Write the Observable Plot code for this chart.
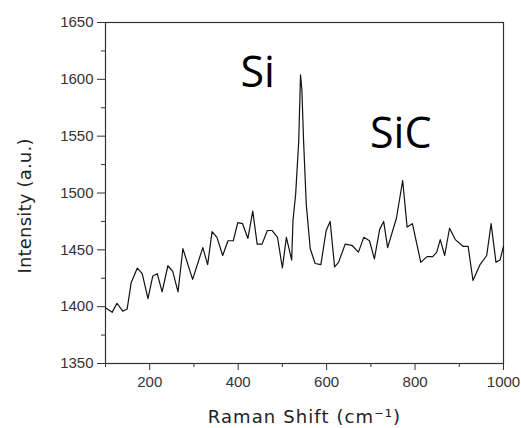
<!DOCTYPE html>
<html><head><meta charset="utf-8">
<script src="https://cdn.jsdelivr.net/npm/d3@7"></script>
<script src="https://cdn.jsdelivr.net/npm/@observablehq/plot@0.6"></script>
<style>body{margin:0;background:#fff}</style>
</head><body><div id="chart"></div>
<script>
const ramanShift = [100,115,126,139,149,158,172,183,196,207,217,228,241,252,264,275,297,320,331,341,352,365,377,389,399,410,422,433,443,454,466,477,489,500,509,521,524,530,537,541,544,548,554,563,574,587,599,608,618,627,642,657,672,684,697,708,720,729,738,758,772,782,794,813,827,840,849,857,867,878,891,909,920,931,947,962,972,983,992,1000];
const intensity = [1399,1395,1403,1396,1398,1421,1434,1429,1407,1427,1429,1413,1436,1431,1413,1451,1424,1452,1437,1466,1461,1445,1458,1458,1474,1473,1460,1484,1455,1455,1467,1467,1461,1434,1461,1441,1476,1499,1546,1604,1591,1545,1490,1451,1438,1437,1467,1475,1435,1439,1455,1454,1448,1461,1458,1442,1468,1475,1452,1478,1511,1470,1473,1439,1444,1444,1448,1459,1445,1469,1459,1453,1453,1423,1437,1445,1473,1439,1441,1453];

const xMajorTicks = [200,400,600,800,1000];
const xMinorTicks = [100,300,500,700,900];
const yMajorTicks = [1350,1400,1450,1500,1550,1600,1650];
const yMinorTicks = [1375,1425,1475,1525,1575,1625];

const peakNames = ["Si","SiC"];
const peakLabelX = [405,698];
const peakLabelY = [1593,1540];

const xTitle = "Raman Shift (cm\u207B\u00B9)";
const yTitle = "Intensity (a.u.)";

const spectrum = ramanShift.map((x,i)=>({x, y:intensity[i]}));
const peaks = peakNames.map((t,i)=>({text:t, x:peakLabelX[i], y:peakLabelY[i]}));

const fmt = d => String(d);

const chart = Plot.plot({
  width:521, height:428,
  marginLeft:105, marginRight:18, marginTop:22, marginBottom:65,
  style:{fontFamily:"'Liberation Sans', Arial, 'DejaVu Sans', sans-serif", fontSize:"15px", color:"#333", background:"#fff", overflow:"visible"},
  x:{domain:[100,1000]},
  y:{domain:[1350,1650]},
  marks:[
    Plot.axisX({ticks:xMajorTicks, tickSize:7, tickPadding:6, tickFormat:fmt, label:null, fontSize:15, fill:"#333"}),
    Plot.axisX(xMinorTicks, {tickSize:4, tickFormat:()=>"", label:null}),
    Plot.axisY({ticks:yMajorTicks, tickSize:8, tickPadding:4, tickFormat:fmt, label:null, fontSize:15, fill:"#333"}),
    Plot.axisY(yMinorTicks, {tickSize:4, tickFormat:()=>"", label:null}),
    Plot.frame({stroke:"#333", strokeWidth:1.2}),
    Plot.line(spectrum, {x:"x", y:"y", stroke:"#111", strokeWidth:1.2}),
    Plot.text(peaks, {x:"x", y:"y", text:"text", textAnchor:"start", lineAnchor:"bottom", fontSize:43, fontFamily:"'Open Sans', sans-serif", fill:"#000"}),
    Plot.text([xTitle], {frameAnchor:"bottom", textAnchor:"middle", dy:59, lineAnchor:"bottom", fontSize:18, fill:"#222", fontFamily:"'DejaVu Sans', sans-serif"}),
    Plot.text([yTitle], {frameAnchor:"left", textAnchor:"middle", lineAnchor:"middle", dx:-80, dy:13, rotate:-90, fontSize:18, fill:"#222", fontFamily:"'DejaVu Sans', sans-serif"})
  ]
});
d3.select(chart).selectAll("text").each(function(){
  const t = this.textContent;
  if (t === xTitle) this.setAttribute("letter-spacing", "1.1px");
  if (t === yTitle) this.setAttribute("letter-spacing", "0.2px");
});
document.getElementById("chart").appendChild(chart);
</script>
</body></html>
